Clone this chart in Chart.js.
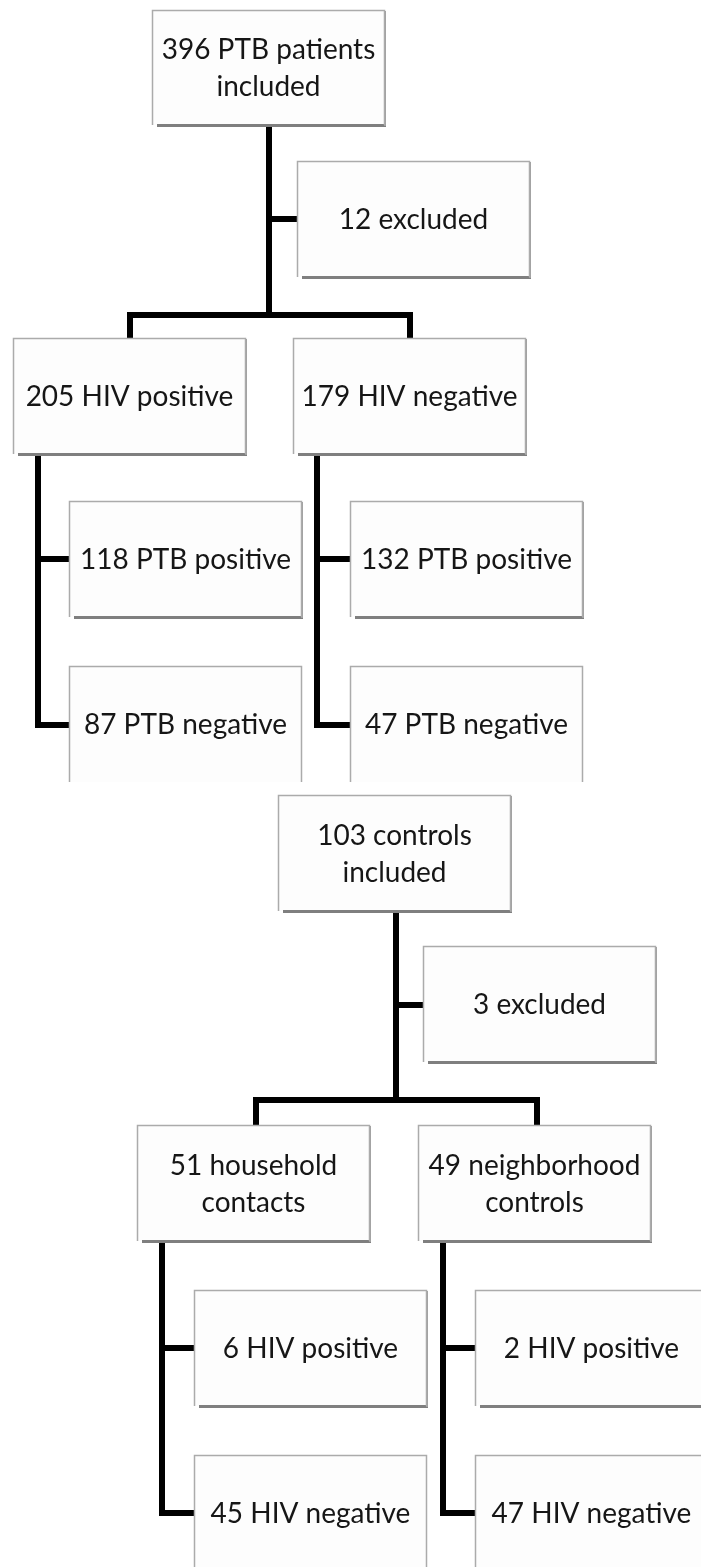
<!DOCTYPE html>
<html>
<head>
<meta charset="utf-8">
<title>Study flowchart</title>
<script src="https://cdn.jsdelivr.net/npm/chart.js@4"></script>
<style>
    html, body { margin: 0; padding: 0; background: #fff; }
    #flowChart { display: block; }
</style>
</head>
<body>
<canvas id="flowChart" width="701" height="1567"></canvas>
<script>
// Patients (top tree)
const ptbCounts = [396, 12, 205, 179, 118, 87, 132, 47];
const ptbLabels = ['PTB patients|included', 'excluded', 'HIV positive', 'HIV negative',
                   'PTB positive', 'PTB negative', 'PTB positive', 'PTB negative'];

// Controls (bottom tree)
const ctrlCounts = [103, 3, 51, 49, 6, 45, 2, 47];
const ctrlLabels = ['controls|included', 'excluded', 'household|contacts', 'neighborhood|controls',
                    'HIV positive', 'HIV negative', 'HIV positive', 'HIV negative'];

// Layout in page units (x, y, w, h); cut = picture ends before the box bottom
const ptbBoxes = [
    [152, 10, 233, 115], [297, 161, 233, 116], [13, 338, 233, 116], [293, 338, 233, 116],
    [69, 501, 233, 116], [69, 666, 233, 116, true], [350, 501, 233, 116], [350, 666, 233, 116, true]
];
const ctrlBoxes = [
    [278, 795, 233, 116], [423, 946, 233, 116], [137, 1125, 233, 116], [418, 1125, 233, 116],
    [194, 1290, 233, 116], [194, 1455, 233, 116, true], [475, 1290, 233, 116], [475, 1455, 233, 116, true]
];

// Connector polylines
const connectors = [
    [[269, 125], [269, 316]],
    [[269, 219], [297, 219]],
    [[130, 338], [130, 315], [410, 315], [410, 338]],
    [[38, 454], [38, 725], [69, 725]],
    [[38, 559], [69, 559]],
    [[317, 454], [317, 725], [350, 725]],
    [[317, 559], [350, 559]],
    [[396, 911], [396, 1101]],
    [[396, 1005], [423, 1005]],
    [[256, 1125], [256, 1100], [537, 1100], [537, 1125]],
    [[162, 1240], [162, 1513], [194, 1513]],
    [[162, 1348], [194, 1348]],
    [[443, 1240], [443, 1513], [475, 1513]],
    [[443, 1348], [475, 1348]]
];

const FONT = '28px Lato';
const CAP = 20;
const LINE_GAP = 37;

function drawBoxes(chart, boxes, counts, labels) {
    const ctx = chart.ctx;
    const sx = chart.scales.x, sy = chart.scales.y;
    boxes.forEach(function(b, i) {
        const x0 = sx.getPixelForValue(b[0]);
        const x1 = sx.getPixelForValue(b[0] + b[2]);
        const y0 = sy.getPixelForValue(b[1]);
        const y1 = sy.getPixelForValue(b[1] + b[3]);
        const cut = b[4] === true;

        ctx.save();
        ctx.fillStyle = '#fdfdfd';
        ctx.fillRect(x0, y0, x1 - x0, y1 - y0);
        if (!cut) {
            // shadow along the bottom and right side
            ctx.fillStyle = '#7f7f7f';
            ctx.fillRect(x0 + 5, y1 - 1, x1 - x0 - 4, 3);
            ctx.fillStyle = '#a0a0a0';
            ctx.fillRect(x1 - 1, y0 + 1, 2, y1 - y0);
        }
        ctx.strokeStyle = '#ababab';
        ctx.lineWidth = 1.5;
        ctx.beginPath();
        ctx.moveTo(x0 + 0.5, y1);
        ctx.lineTo(x0 + 0.5, y0 + 0.5);
        ctx.lineTo(x1 - 0.5, y0 + 0.5);
        ctx.lineTo(x1 - 0.5, y1);
        ctx.stroke();

        const lines = (counts[i] + ' ' + labels[i]).split('|');
        const cx = (x0 + x1) / 2, cy = (y0 + y1) / 2;
        ctx.fillStyle = '#161616';
        ctx.font = FONT;
        ctx.textAlign = 'center';
        ctx.textBaseline = 'alphabetic';
        lines.forEach(function(t, k) {
            const off = (k - (lines.length - 1) / 2) * LINE_GAP;
            ctx.fillText(t, cx, cy + CAP / 2 + off);
        });
        ctx.restore();
    });
}

const boxPlugin = {
    id: 'flowBoxes',
    afterDatasetsDraw: function(chart) {
        drawBoxes(chart, ptbBoxes, ptbCounts, ptbLabels);
        drawBoxes(chart, ctrlBoxes, ctrlCounts, ctrlLabels);
    }
};

const ctx = document.getElementById('flowChart').getContext('2d');
const flowChart = new Chart(ctx, {
    type: 'scatter',
    data: {
        datasets: connectors.map(function(path) {
            return {
                data: path.map(function(p) { return { x: p[0], y: p[1] }; }),
                showLine: true,
                borderColor: '#000',
                borderWidth: 6,
                borderCapStyle: 'butt',
                borderJoinStyle: 'miter',
                pointRadius: 0,
                fill: false
            };
        })
    },
    options: {
        responsive: false,
        animation: false,
        devicePixelRatio: 1,
        layout: { padding: 0 },
        plugins: {
            legend: { display: false },
            tooltip: { enabled: false }
        },
        scales: {
            x: { type: 'linear', min: 0, max: 701, display: false },
            y: { type: 'linear', min: 0, max: 1567, reverse: true, display: false }
        }
    },
    plugins: [boxPlugin]
});
</script>
</body>
</html>
